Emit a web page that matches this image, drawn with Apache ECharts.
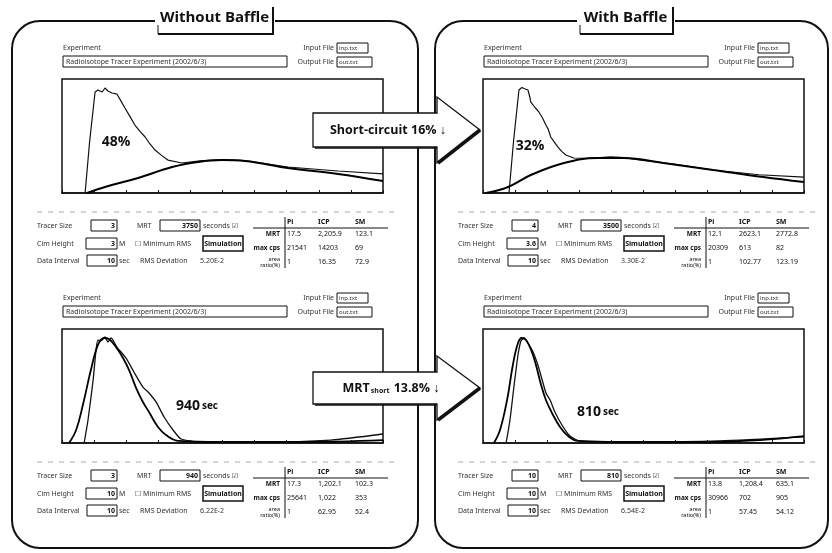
<!DOCTYPE html>
<html>
<head>
<meta charset="utf-8">
<script src="https://cdn.jsdelivr.net/npm/echarts@6/dist/echarts.min.js"></script>
<style>
html,body{margin:0;padding:0;background:#fff}
#c{width:832px;height:553px}
</style>
</head>
<body>
<div id="c"></div>
<script>
// Residence-time curves: [time index, normalised count rate]
const shortNoBaffleMeasured = [[7.2,0],[8.6,45],[10.3,88.6],[11.2,90.4],[12.5,88.6],[13.4,92.1],[14.3,89.5],[15.6,87.7],[16.2,88.6],[17.1,86.8],[18.3,81],[19.6,74.6],[21.2,67],[22.7,59.6],[24.3,54],[25.9,49.1],[27.4,43],[29.0,37.7],[31.0,33],[33.0,28.9],[37.4,26.3],[43.0,28.1],[49.8,29.2],[57.0,28.4],[70.4,22.8],[86.0,19.3],[100,16.7]];
const shortNoBaffleModel = [[7.8,0],[13.4,5.3],[23.7,13.2],[34.3,22.8],[42.4,27.2],[49.8,28.9],[57.0,28.1],[70.4,21.9],[86.0,16.7],[100,10.5]];

const shortBaffleMeasured = [[8.1,0],[9.5,45],[11.2,90.4],[12.1,92.5],[13.0,91.5],[14.0,90.4],[14.6,84],[14.9,79.8],[16.2,75],[17.4,71.1],[18.5,66],[19.6,59.6],[20.3,56],[21.1,49.1],[22.0,45.5],[23.3,40.4],[24.5,36.5],[25.8,33.3],[28.3,30.7],[33.0,30.5],[39.8,31.8],[44.0,31.0],[49.1,28.9],[60.0,25.2],[71.7,20.2],[86.0,16.0],[100,14.0]];
const shortBaffleModel = [[0.9,0],[7.8,5.3],[14.9,15.8],[25.2,26.3],[35.7,30.7],[43.8,30.7],[56.2,26.3],[71.7,20.2],[87.3,14.0],[100,9.6]];

const mrtNoBaffleMeasured = [[6.9,0],[8.1,20.2],[9.7,55.3],[10.6,81.6],[11.2,90.4],[12.1,89.5],[13.4,93.0],[14.3,88.6],[15.3,92.1],[17.1,84.2],[19.9,74.6],[22.4,62.3],[25.2,49.1],[27.1,43.9],[29.3,36.0],[31.8,22.8],[34.6,11.4],[37.1,3.5],[43.3,0.9],[62.0,0.9],[83.8,2.6],[100,7.9]];
const mrtNoBaffleModel = [[2.2,0],[4.4,11.4],[6.5,33.3],[9.0,64.0],[11.2,86.0],[13.1,92.1],[14.6,91.2],[16.8,84.2],[19.0,74.6],[20.9,64.0],[23.1,48.2],[25.2,36.0],[27.1,27.2],[29.9,14.0],[32.4,7.0],[36.4,1.8],[49.5,0.9],[74.5,0.9],[100,2.6]];

const mrtBaffleMeasured = [[7.2,0],[8.4,20.2],[9.7,50.9],[10.9,77.2],[11.8,89.5],[12.8,92.1],[14.0,87.7],[15.6,79.8],[17.1,68.4],[18.7,52.6],[19.6,43.9],[20.9,37.7],[22.4,27.2],[24.6,15.8],[27.1,6.1],[30.2,1.8],[48.9,0.9],[73.8,1.8],[100,5.3]];
const mrtBaffleModel = [[3.4,0],[5.3,11.4],[7.5,37.7],[9.3,68.4],[10.9,87.7],[12.1,92.1],[13.4,90.4],[15.0,81.6],[16.5,68.4],[18.1,50.9],[19.6,37.7],[21.5,26.3],[24.0,14.0],[26.5,6.1],[29.6,1.8],[42.7,0.9],[67.6,0.9],[86.3,2.6],[100,6.1]];

// Annotations
const panelTitles = ['Without Baffle', 'With Baffle'];
const shortCircuitShares = ['48%', '32%'];
const meanResidenceTimes = ['940', '810'];
const shortCircuitDrop = 'Short-circuit 16% \u2193';
const mrtShortDrop = '13.8% \u2193';

// Result tables (rows: MRT, max cps, area ratio)
const tableCols = ['Pi', 'ICP', 'SM'];
const tableRows = ['MRT', 'max cps', 'area\nratio(%)'];
const tableShortNoBaffle = [['17.5','2,205.9','123.1'],['21541','14203','69'],['1','16.35','72.9']];
const tableShortBaffle   = [['12.1','2623.1','2772.8'],['20309','613','82'],['1','102.77','123.19']];
const tableMrtNoBaffle   = [['17.3','1,202.1','102.3'],['25641','1,022','353'],['1','62.95','52.4']];
const tableMrtBaffle     = [['13.8','1,208.4','635.1'],['30966','702','905'],['1','57.45','54.12']];

// Input fields of each run
const runNames = ['Radioisotope Tracer Experiment (2002/6/3)', 'Radioisotope Tracer Experiment (2002/6/3)', 'Radioisotope Tracer Experiment (2002/6/3)', 'Radioisotope Tracer Experiment (2002/6/3)'];
const tracerSizes = ['3', '4', '3', '10'];
const mrtInputs = ['3750', '3500', '940', '810'];
const heights = ['3', '3.6', '10', '10'];
const intervals = ['10', '10', '10', '10'];
const rmsValues = ['5.20E-2', '3.30E-2', '6.22E-2', '6.54E-2'];

const curveSets = [
  [shortNoBaffleMeasured, shortNoBaffleModel],
  [shortBaffleMeasured, shortBaffleModel],
  [mrtNoBaffleMeasured, mrtNoBaffleModel],
  [mrtBaffleMeasured, mrtBaffleModel]
];
const tables = [tableShortNoBaffle, tableShortBaffle, tableMrtNoBaffle, tableMrtBaffle];

const FONT = '"Noto Sans", "DejaVu Sans", sans-serif';
const BOLD = '"Open Sans", "Noto Sans", sans-serif';

// plot areas: [left, top]
const plotPos = [[62,79],[483,79],[62,329],[483,329]];
const formOffset = [[0,0],[421,0],[0,250],[421,250]];

const chart = echarts.init(document.getElementById('c'), null, {renderer: 'canvas'});

const grids = [], xAxes = [], yAxes = [], series = [];
plotPos.forEach((p, i) => {
  grids.push({left: p[0], top: p[1], width: 321, height: 114, show: true,
    borderColor: '#111', borderWidth: 1.5, backgroundColor: '#fff', containLabel: false});
  xAxes.push({type: 'value', gridIndex: i, min: 0, max: 100, interval: 10,
    axisLine: {show: true, lineStyle: {color: '#111', width: 1.5}},
    axisTick: {show: true, inside: true, length: 3, lineStyle: {color: '#111'}},
    axisLabel: {show: false}, splitLine: {show: false}});
  yAxes.push({type: 'value', gridIndex: i, min: 0, max: 100,
    axisLine: {show: false}, axisTick: {show: false}, axisLabel: {show: false}, splitLine: {show: false}});
  const bottom = i >= 2;
  series.push({type: 'line', xAxisIndex: i, yAxisIndex: i, data: curveSets[i][0],
    showSymbol: false, smooth: bottom ? 0.2 : false, lineStyle: {color: '#111', width: bottom ? 1.3 : 1.2}, z: 3});
  series.push({type: 'line', xAxisIndex: i, yAxisIndex: i, data: curveSets[i][1],
    showSymbol: false, smooth: 0.4, lineStyle: {color: '#000', width: bottom ? 1.8 : 2}, z: 4});
});

const G = [];
function txt(x, y, s, o) {
  const st = Object.assign({text: s, font: '7px ' + FONT, fill: '#333', align: 'left', verticalAlign: 'middle'}, o || {});
  G.push({type: 'text', x: x, y: y, z: 20, silent: true, style: st});
}
function box(x, y, w, h, o, z) {
  G.push({type: 'rect', z: z || 19, silent: true, shape: {x: x, y: y, width: w, height: h},
    style: Object.assign({fill: '#fff', stroke: '#111', lineWidth: 1}, o || {})});
}
function ln(x1, y1, x2, y2, o, z) {
  G.push({type: 'line', z: z || 19, silent: true, shape: {x1: x1, y1: y1, x2: x2, y2: y2},
    style: Object.assign({stroke: '#111', lineWidth: 1}, o || {})});
}

// Rounded panel frames with title tabs
function panelFrame(x, w, title, tabL, tabR) {
  G.push({type: 'rect', z: 5, silent: true, shape: {x: x, y: 21, width: w, height: 527, r: 28},
    style: {fill: 'transparent', stroke: '#111', lineWidth: 2}});
  box(tabL - 3, 12, tabR - tabL + 5, 18, {fill: '#fff', stroke: null, lineWidth: 0}, 6);
  txt((tabL + tabR) / 2 - 1, 18, title, {font: 'bold 15px ' + BOLD, fill: '#111', align: 'center'});
  ln(tabR, 7, tabR, 34, {lineWidth: 2}, 7);
  ln(tabL, 34, tabR + 1, 34, {lineWidth: 2}, 7);
  ln(tabL, 25, tabL, 34, {lineWidth: 1}, 7);
}
panelFrame(12, 406, panelTitles[0], 158, 273);
panelFrame(435, 393, panelTitles[1], 580, 673);

// Software form around each plot
function form(k) {
  const ox = formOffset[k][0], oy = formOffset[k][1];
  const T = (x, y, s, o) => txt(x + ox, y + oy, s, o);
  const B = (x, y, w, h, o) => box(x + ox, y + oy, w, h, o);
  const L = (x1, y1, x2, y2, o) => ln(x1 + ox, y1 + oy, x2 + ox, y2 + oy, o);
  const vb = {align: 'right', font: 'bold 7px ' + FONT, fill: '#111'};
  T(63, 48, 'Experiment');
  B(63, 56, 224, 11); T(66, 61.5, runNames[k]);
  T(334, 48, 'Input File', {align: 'right'}); B(337, 43, 31, 10); T(339, 48, 'inp.txt', {font: '6px ' + FONT});
  T(334, 62, 'Output File', {align: 'right'}); B(337, 57, 35, 10); T(339, 62, 'out.txt', {font: '6px ' + FONT});
  L(37, 212, 400, 212, {stroke: '#aaa', lineDash: [5, 6]});
  // row 1
  T(37, 226, 'Tracer Size'); B(91, 220, 26, 11); T(115, 226, tracerSizes[k], vb);
  T(137, 226, 'MRT'); B(160, 220, 40, 11); T(198, 226, mrtInputs[k], vb); T(203, 226, 'seconds \u2611');
  // row 2
  T(37, 244, 'Cim Height'); B(86, 238, 31, 11); T(115, 244, heights[k], vb); T(119, 244, 'M');
  T(135, 244, '\u2610 Minimum RMS'); B(203, 236, 40, 15, {lineWidth: 1.5}); T(223, 243.5, 'Simulation', {align: 'center', font: 'bold 7px ' + FONT, fill: '#111'});
  // row 3
  T(37, 261, 'Data Interval'); B(87, 255, 30, 11); T(115, 261, intervals[k], vb); T(119, 261, 'sec');
  T(140, 261, 'RMS Deviation'); T(200, 261, rmsValues[k]);
  // results table
  L(285, 217, 285, 268); L(253, 228, 388, 228);
  const cx = [287, 318, 355], ry = [234, 248, 262];
  tableCols.forEach((c, j) => T(cx[j], 222, c, {font: 'bold 7px ' + FONT, fill: '#111'}));
  tableRows.forEach((r, i) => {
    T(280, ry[i], r, {align: 'right', font: (i === 2 ? '5.5px ' : 'bold 6.5px ') + FONT, fill: '#111', lineHeight: 6});
    tables[k][i].forEach((v, j) => T(cx[j], ry[i], v, {font: '7px ' + FONT, fill: '#111'}));
  });
}
[0, 1, 2, 3].forEach(form);

// In-plot annotations
txt(116, 142, shortCircuitShares[0], {font: 'bold 14px ' + BOLD, fill: '#111', align: 'center'});
txt(530, 146, shortCircuitShares[1], {font: 'bold 14px ' + BOLD, fill: '#111', align: 'center'});
const secRich = {n: {font: 'bold 14px ' + BOLD, fill: '#111'}, u: {font: 'bold 10px ' + BOLD, fill: '#111'}};
txt(197, 406, '{n|' + meanResidenceTimes[0] + '} {u|sec}', {align: 'center', fill: '#111', rich: secRich});
txt(598, 412, '{n|' + meanResidenceTimes[1] + '} {u|sec}', {align: 'center', fill: '#111', rich: secRich});

// Block arrows between the panels
function blockArrow(cy, bodyHalf, headHalf) {
  const x0 = 313, xh = 437, tip = 480;
  G.push({type: 'polygon', z: 40, silent: true,
    shape: {points: [[x0, cy - bodyHalf], [xh, cy - bodyHalf], [xh, cy - headHalf], [tip, cy], [xh, cy + headHalf], [xh, cy + bodyHalf], [x0, cy + bodyHalf]]},
    style: {fill: '#fff', stroke: '#111', lineWidth: 1.3}});
  ln(tip, cy, xh + 1, cy + headHalf, {lineWidth: 3.5}, 41);
  ln(x0 + 2, cy + bodyHalf + 1, xh, cy + bodyHalf + 1, {lineWidth: 1.5}, 41);
}
blockArrow(130, 17, 33);
blockArrow(388, 16, 32);
txt(388, 130, shortCircuitDrop, {font: 'bold 12.5px ' + BOLD, fill: '#111', align: 'center'});
G[G.length - 1].z = 45;
txt(391, 388, '{a|MRT}{s|short}{a| ' + mrtShortDrop + '}', {align: 'center', fill: '#111',
  rich: {a: {font: 'bold 12.5px ' + BOLD, fill: '#111', height: 16, verticalAlign: 'middle'},
         s: {font: 'bold 7px ' + BOLD, fill: '#111', height: 16, verticalAlign: 'bottom', padding: [6, 1, 0, 1]}}});
G[G.length - 1].z = 45;

chart.setOption({
  animation: false,
  backgroundColor: '#fff',
  grid: grids,
  xAxis: xAxes,
  yAxis: yAxes,
  series: series,
  graphic: {elements: G}
});
</script>
</body>
</html>
